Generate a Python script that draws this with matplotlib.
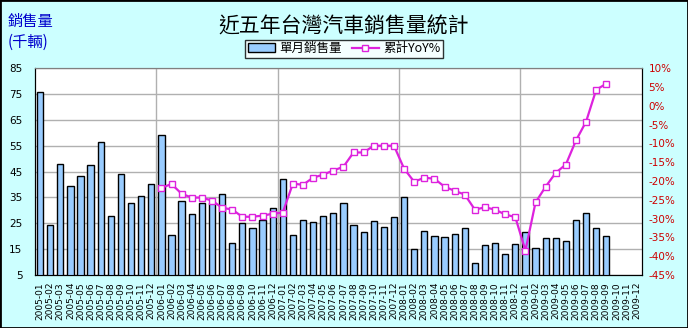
import matplotlib
matplotlib.use("Agg")
import matplotlib.pyplot as plt
import numpy as np

plt.rcParams['font.family'] = ['Noto Sans CJK TC', 'DejaVu Sans']

# 月份 2005-01 ~ 2009-12
months = [f"{y}-{m:02d}" for y in range(2005, 2010) for m in range(1, 13)]

# 單月銷售量 (千輛)
sales = [75.7, 24.4, 47.8, 39.3, 43.2, 47.4, 56.3, 27.8, 44.0, 32.7, 35.6, 40.1,
         59.1, 20.5, 33.5, 28.5, 32.7, 32.7, 36.2, 17.4, 25.0, 23.1, 26.2, 30.8,
         42.0, 20.4, 26.2, 25.4, 27.7, 28.9, 32.7, 24.2, 21.5, 25.8, 23.4, 27.3,
         35.2, 14.9, 21.9, 20.0, 19.6, 20.9, 23.1, 9.5, 16.5, 17.3, 13.0, 16.9,
         21.5, 15.3, 19.2, 19.2, 18.0, 26.2, 28.9, 23.1, 20.1]

# 累計YoY% (2006-01 起)
yoy = [-21.8, -20.8, -23.4, -24.4, -24.4, -25.2, -27.1, -27.6, -29.5, -29.5, -29.2, -28.7,
       -28.4, -20.7, -21.0, -19.1, -18.3, -17.2, -16.2, -12.4, -12.4, -10.6, -10.6, -10.6,
       -16.7, -20.2, -19.1, -19.4, -21.5, -22.6, -23.6, -27.6, -27.0, -27.6, -28.9, -29.6,
       -38.5, -25.7, -21.5, -17.8, -15.6, -9.2, -4.2, 4.3, 5.9]

bg = '#CCFFFF'
fig = plt.figure(figsize=(6.88, 3.28), dpi=100, facecolor=bg)
fig.patches.append(plt.Rectangle((0, 0), 1, 1, transform=fig.transFigure,
                                 fill=False, edgecolor='black', linewidth=2))
ax = fig.add_axes([0.0509, 0.1616, 0.8818, 0.6302])
ax.set_facecolor('white')

x = np.arange(len(months))
bars = ax.bar(x[:len(sales)], sales, width=0.62, color='#99CCFF',
              edgecolor='black', linewidth=1, zorder=3, label='單月銷售量')
ax.set_xlim(-0.5, len(months) - 0.5)
ax.set_ylim(5, 85)
ax.set_yticks(np.arange(5, 86, 10))
ax.set_xticks(x)
ax.set_xticklabels(months, rotation=90, fontsize=6.5, family='DejaVu Sans')
ax.tick_params(axis='both', length=0)
ax.tick_params(axis='y', labelsize=7.5, pad=9)
ax.tick_params(axis='x', pad=5)
for lab in ax.get_yticklabels():
    lab.set_family('DejaVu Sans')
ax.grid(axis='y', color='#B0B0B0', linewidth=1, zorder=0)
for b in range(12, len(months), 12):
    ax.axvline(b - 0.5, color='#B0B0B0', linewidth=1, zorder=0)
ax.spines['top'].set_color('#808080')
for s in ['left', 'right', 'bottom']:
    ax.spines[s].set_color('black')

ax2 = ax.twinx()
line, = ax2.plot(x[12:12 + len(yoy)], yoy, color='#DD22DD', linewidth=1.6,
                 marker='s', markersize=5, markerfacecolor='white',
                 markeredgecolor='#DD22DD', markeredgewidth=1, zorder=4,
                 label='累計YoY%')
ax2.set_ylim(-45, 10)
ax2.set_yticks(np.arange(-45, 11, 5))
ax2.set_yticklabels([f"{v}%" for v in range(-45, 11, 5)], family='DejaVu Sans')
ax2.tick_params(axis='y', length=0, labelsize=7.5, labelcolor='#CC0000', pad=5)
ax2.spines['top'].set_color('#808080')
ax2.spines['right'].set_color('black')

fig.text(0.5, 0.918, '近五年台灣汽車銷售量統計', ha='center', va='center', fontsize=15)
fig.text(0.011, 0.936, '銷售量', color='#0000CC', fontsize=11, ha='left', va='center')
fig.text(0.011, 0.872, '(千輛)', color='#0000CC', fontsize=11, ha='left', va='center')

leg = fig.legend(handles=[bars, line], loc='center', bbox_to_anchor=(0.5, 0.852),
                 ncol=2, fontsize=9, frameon=True, fancybox=False,
                 edgecolor='black', borderpad=0.2, handlelength=2.2,
                 handletextpad=0.3, columnspacing=0.8, borderaxespad=0)
leg.get_frame().set_linewidth(1)

fig.savefig('out.png', dpi=100, facecolor=bg)
